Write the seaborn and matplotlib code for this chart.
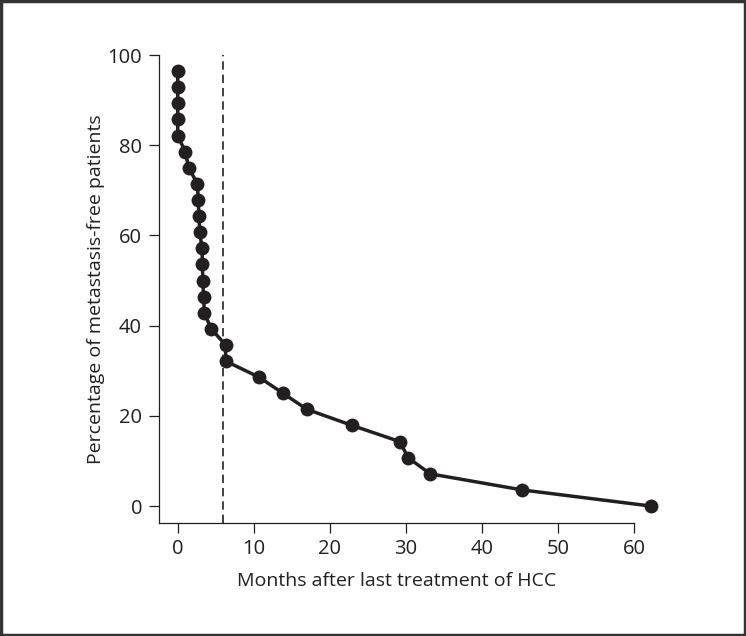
import numpy as np
import pandas as pd
import matplotlib
matplotlib.use("Agg")
import matplotlib.pyplot as plt
import seaborn as sns
from matplotlib.patches import Rectangle

# Data (Kaplan-Meier style steps)
months = [0, 0, 0, 0, 0, 1.0, 1.45, 2.6, 2.7, 2.8, 2.9, 3.2, 3.25, 3.3, 3.4,
          3.5, 4.4, 6.3, 6.3, 10.7, 13.85, 17.0, 22.95, 29.2, 30.3, 33.2,
          45.3, 62.2]
percent_free = [96.43, 92.86, 89.29, 85.71, 82.14, 78.57, 75.0, 71.43, 67.86,
                64.29, 60.71, 57.14, 53.57, 50.0, 46.43, 42.86, 39.29, 35.71,
                32.14, 28.57, 25.0, 21.43, 17.86, 14.29, 10.71, 7.14, 3.57, 0.0]
cutoff_month = 6
x_ticks = [0, 10, 20, 30, 40, 50, 60]
y_ticks = [0, 20, 40, 60, 80, 100]

sns.set_style("ticks")
plt.rcParams["font.family"] = ["Open Sans", "DejaVu Sans"]

df = pd.DataFrame({"month": months, "pct": percent_free})
ink = "#231f20"

fig = plt.figure(figsize=(7.46, 6.36), dpi=100)
ax = fig.add_axes([0.2127, 0.1781, 0.678, 0.7425])

sns.lineplot(data=df, x="month", y="pct", sort=False, estimator=None,
             color=ink, linewidth=2.5, marker="o", markersize=10,
             markeredgewidth=0, ax=ax, zorder=3)

ax.axvline(cutoff_month, ymin=0, ymax=(100 - (-3.7)) / (101 - (-3.7)),
           color=ink, linewidth=1.2, linestyle=(0, (5, 3)), zorder=2)

ax.set_xlim(-2.5, 64)
ax.set_ylim(-3.7, 101)
ax.set_xticks(x_ticks)
ax.set_yticks(y_ticks)
ax.spines["top"].set_visible(False)
ax.spines["right"].set_visible(False)
ax.spines["left"].set_bounds(-3.7, 100)
ax.spines["bottom"].set_bounds(-2.5, 60)
for s in ("left", "bottom"):
    ax.spines[s].set_linewidth(0.9)
    ax.spines[s].set_color(ink)
ax.tick_params(axis="both", labelsize=14.5, colors=ink, width=0.9,
               length=7, pad=5)

ax.set_xlabel("Months after last treatment of HCC", fontsize=14,
              color=ink, labelpad=9)
ax.set_ylabel("Percentage of metastasis-free patients", fontsize=14,
              color=ink, labelpad=1.5)
# labels centred on the drawn spines, not the full axes box
ax.xaxis.label.set_x(0.47)
ax.yaxis.label.set_y(0.495)

# frame around the whole figure
fig.patches.append(Rectangle((0.002, 0.002), 0.996, 0.996,
                             transform=fig.transFigure, fill=False,
                             edgecolor="#333333", linewidth=2.5))

fig.savefig("out.png", dpi=100)
